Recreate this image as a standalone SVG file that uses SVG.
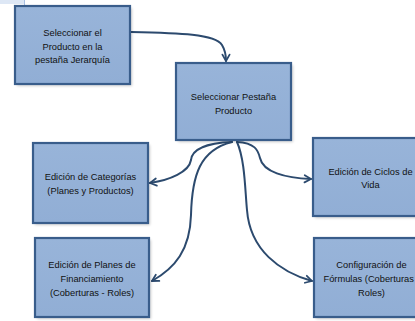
<svg xmlns="http://www.w3.org/2000/svg" width="415" height="321" viewBox="0 0 415 321">
<style>
.box{fill:url(#g);stroke:#395d8b;stroke-width:2.2}
.sh{fill:#000;opacity:0.2;filter:url(#blur)}
.t{font-family:"Liberation Sans",Arial,sans-serif;font-size:9.3px;fill:#111;text-anchor:middle}
.c{fill:none;stroke:#2c4a6e;stroke-width:2;stroke-linecap:round}
</style>
<defs>
<linearGradient id="g" x1="0" y1="0" x2="0" y2="1">
<stop offset="0" stop-color="#98b4d9"/>
<stop offset="1" stop-color="#91aed5"/>
</linearGradient>
<filter id="blur" x="-10%" y="-10%" width="130%" height="130%"><feGaussianBlur stdDeviation="1.5"/></filter>
<marker id="a" viewBox="0 0 10 10" refX="9" refY="5" markerWidth="8" markerHeight="8" markerUnits="userSpaceOnUse" orient="auto" overflow="visible">
<path d="M1,0.5 L9,5 L1,9.5" fill="none" stroke="#2c4a6e" stroke-width="2.2" stroke-linecap="round" stroke-linejoin="round"/>
</marker>
</defs>
<rect x="0" y="0" width="415" height="321" fill="#fff"/>
<rect x="0" y="0" width="24" height="4" fill="#dde7f5"/>
<line x1="24.5" y1="0" x2="24.5" y2="5" stroke="#a9c0e2" stroke-width="1"/>

<g id="connectors">
<path class="c" d="M131,32 C180,33 215,34 222,45 C225,50 226,55 226,61" marker-end="url(#a)"/>
<path class="c" d="M232,142 C205,143 192,150 191,160 C189,172 170,180 150,183" marker-end="url(#a)"/>
<path class="c" d="M232,142 C200,150 192,175 191,215 C190,250 175,268 152,281" marker-end="url(#a)"/>
<path class="c" d="M237,142 C255,143 258,150 260,158 C263,172 285,178 311,179" marker-end="url(#a)"/>
<path class="c" d="M237,142 C245,160 245,190 247,210 C250,250 280,272 312,281" marker-end="url(#a)"/>
</g>

<g id="n1">
<rect class="sh" x="17" y="8" width="115" height="78"/>
<rect class="box" x="15" y="6" width="115" height="78"/>
<text class="t" x="72.5" y="36">Seleccionar el</text>
<text class="t" x="72.5" y="49.5">Producto en la</text>
<text class="t" x="72.5" y="63">pestaña Jerarquía</text>
</g>

<g id="n2">
<rect class="sh" x="178" y="65" width="115" height="77"/>
<rect class="box" x="176" y="63" width="115" height="77"/>
<text class="t" x="233.5" y="100">Seleccionar Pestaña</text>
<text class="t" x="233.5" y="114">Producto</text>
</g>

<g id="n3">
<rect class="sh" x="35" y="145" width="115" height="80"/>
<rect class="box" x="33" y="143" width="115" height="80"/>
<text class="t" x="90.5" y="180">Edición de Categorías</text>
<text class="t" x="90.5" y="194">(Planes y Productos)</text>
</g>

<g id="n4">
<rect class="sh" x="315" y="140" width="115" height="78"/>
<rect class="box" x="313" y="138" width="115" height="78"/>
<text class="t" x="370.5" y="175">Edición de Ciclos de</text>
<text class="t" x="370.5" y="187.5">Vida</text>
</g>

<g id="n5">
<rect class="sh" x="37" y="240" width="114" height="79"/>
<rect class="box" x="35" y="238" width="114" height="79"/>
<text class="t" x="92" y="268">Edición de Planes de</text>
<text class="t" x="92" y="282">Financiamiento</text>
<text class="t" x="92" y="296">(Coberturas - Roles)</text>
</g>

<g id="n6">
<rect class="sh" x="316" y="240" width="115" height="79"/>
<rect class="box" x="314" y="238" width="115" height="79"/>
<text class="t" x="371.5" y="268">Configuración de</text>
<text class="t" x="371.5" y="282">Fórmulas (Coberturas -</text>
<text class="t" x="371.5" y="296">Roles)</text>
</g>
</svg>
